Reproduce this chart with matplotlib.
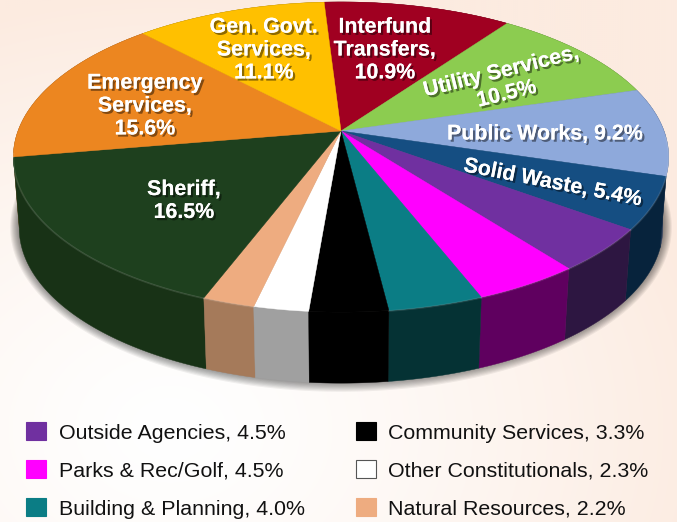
import numpy as np
import matplotlib
matplotlib.use("Agg")
import matplotlib.pyplot as plt
from matplotlib.patches import Polygon, Patch
import matplotlib.patheffects as pe

plt.rcParams['font.family'] = ['Liberation Sans', 'DejaVu Sans']

categories = ["Interfund Transfers", "Utility Services", "Public Works", "Solid Waste",
              "Outside Agencies", "Parks & Rec/Golf", "Building & Planning",
              "Community Services", "Other Constitutionals", "Natural Resources",
              "Sheriff", "Emergency Services", "Gen. Govt. Services"]
values = [10.9, 10.5, 9.2, 5.4, 4.5, 4.5, 4.0, 3.3, 2.3, 2.2, 16.5, 15.6, 11.1]
top_colors = ["#A00021", "#8CCC50", "#8EA9DB", "#154E82", "#7030A0", "#FF00FF", "#0B7D85",
              "#000000", "#FFFFFF", "#EEAC80", "#1E401E", "#EC8620", "#FFC000"]
side_colors = ["#50000F", "#466628", "#2E3E5C", "#07233C", "#2D1641", "#5F005F", "#053234",
               "#000000", "#A0A0A0", "#A57A5A", "#183216", "#7A4510", "#806000"]
legend_items = [4, 5, 6, 7, 8, 9]
slice_labels = {
    0: ("Interfund\nTransfers,\n10.9%", 385, 50, 0),
    1: ("Utility Services,\n10.5%", 504, 83, 14),
    2: ("Public Works, 9.2%", 545, 134, 0),
    3: ("Solid Waste, 5.4%", 553, 183, -11),
    10: ("Sheriff,\n16.5%", 184, 201, 0),
    11: ("Emergency\nServices,\n15.6%", 145, 106, 0),
    12: ("Gen. Govt.\nServices,\n11.1%", 264, 50, 0),
}

# projection of the pie disc (screen pixels)
CX, CY = 341.0, 131.0
A, C, K = 323.0, 150.7, 0.168
START = -3.5
DEPTH = 71.0
SHRINK = 0.982


def top_xy(theta_deg, r=1.0):
    t = np.radians(theta_deg)
    u, v = r * np.sin(t), r * np.cos(t)
    d = 1 + K * v
    return CX + A * u / d, CY - C * v / d


def bottom_xy(theta_deg, r=1.0):
    x, y = top_xy(theta_deg, r)
    return CX + (x - CX) * SHRINK, y + DEPTH


fig = plt.figure(figsize=(6.77, 5.22), dpi=100)
ax = fig.add_axes([0, 0, 1, 1])
ax.set_xlim(0, 677)
ax.set_ylim(522, 0)
ax.axis("off")

# background wash
yy, xx = np.mgrid[0:522:261j, 0:677:339j]
dist = np.clip(np.hypot((xx - 170) / 560, (yy - 430) / 440), 0, 1)
white = np.array([1.0, 1.0, 1.0])
peach = np.array([252, 235, 224]) / 255
bg = white + (peach - white) * (dist[..., None] ** 1.3)
ax.imshow(bg, extent=(0, 677, 522, 0), aspect="auto", zorder=0, interpolation="bilinear")
ax.set_xlim(0, 677)
ax.set_ylim(522, 0)

edges = START + 3.6 * np.concatenate([[0], np.cumsum(values)])

# soft shadow under the pie
ring = np.linspace(0, 360, 361)
bx, by = bottom_xy(ring)
for grow in np.linspace(9, 0, 10):
    sx = CX + (bx - CX) * (1 + grow / 320)
    sy = (by - 157 - DEPTH) * (1 + grow / 150) + 157 + DEPTH + grow * 0.15 - 2
    ax.add_patch(Polygon(np.c_[sx, sy], closed=True, fc="#000000", ec="none", alpha=0.06, zorder=1))

# sides, back to front, then top faces
mids = (edges[:-1] + edges[1:]) / 2
for i in np.argsort(-np.cos(np.radians(mids))):
    th = np.linspace(edges[i], edges[i + 1], 80)
    tx, ty = top_xy(th)
    bx, by = bottom_xy(th)
    ax.add_patch(Polygon(np.r_[np.c_[tx, ty], np.c_[bx, by][::-1]], closed=True,
                         fc=side_colors[i], ec=side_colors[i], lw=0.3, zorder=2))

for i, (a0, a1) in enumerate(zip(edges[:-1], edges[1:])):
    th = np.linspace(a0, a1, 80)
    tx, ty = top_xy(th)
    ax.add_patch(Polygon(np.r_[[[CX, CY]], np.c_[tx, ty]], closed=True,
                         fc=top_colors[i], ec=top_colors[i], lw=0.3, zorder=3))
    # bevel along the rim
    mask = (th > 92) & (th < 262)
    if mask.sum() > 1 and top_colors[i] not in ("#000000", "#FFFFFF"):
        ax.plot(tx[mask], ty[mask] + 0.5, color="white", alpha=0.12, lw=1.2, zorder=4)

# slice labels
shadow = [pe.withSimplePatchShadow(offset=(1.6, -1.6), shadow_rgbFace="black", alpha=0.45), pe.Normal()]
for idx, (txt, x, y, rot) in slice_labels.items():
    ax.text(x, y, txt, color="white", fontweight="bold", fontsize=15.4, ha="center", va="center",
            ma="center", rotation=rot, rotation_mode="anchor", linespacing=1.26,
            path_effects=shadow, zorder=6)

# legend
handles = [Patch(fc=top_colors[i], ec="#555555" if top_colors[i] == "#FFFFFF" else top_colors[i], lw=0.8)
           for i in legend_items]
labels = [f"{categories[i]}, {values[i]:.1f}%" for i in legend_items]
leg = ax.legend(handles, labels, ncol=2, loc="upper left", bbox_to_anchor=(26 / 677, 1 - 422 / 522),
                frameon=False, fontsize=15.4, handlelength=0.94, handleheight=0.94,
                handletextpad=0.58, columnspacing=2.4, labelspacing=0.82, borderpad=0, borderaxespad=0)
for t in leg.get_texts():
    t.set_color("#111111")

fig.savefig("out.png", dpi=100)
